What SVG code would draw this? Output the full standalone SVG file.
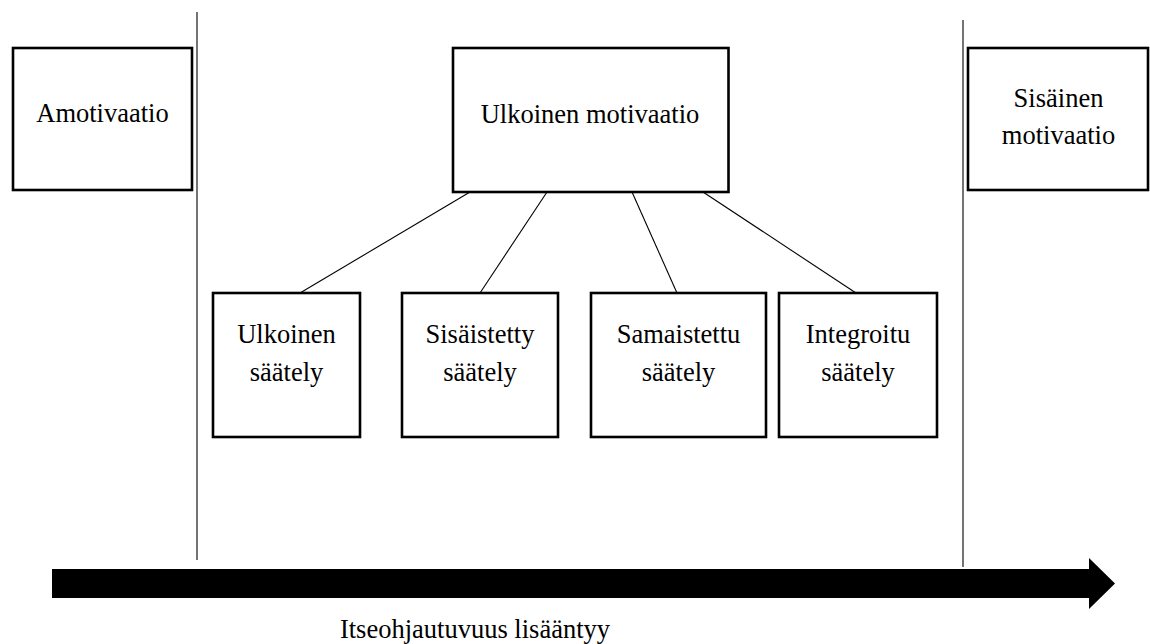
<svg xmlns="http://www.w3.org/2000/svg" width="1150" height="644" viewBox="0 0 1150 644">
<style>
.box{fill:#fff;stroke:#000;stroke-width:2.6}
.t{font-family:"Liberation Serif","Times New Roman",serif;font-size:26.5px;fill:#000;text-anchor:middle}
.ln{stroke:#000;stroke-width:1.1;fill:none}
</style>
<rect width="1150" height="644" fill="#fff"/>
<g id="dividers">
<line class="ln" x1="197" y1="12" x2="197" y2="560"/>
<line class="ln" x1="963" y1="20" x2="963" y2="567"/>
</g>
<g id="connectors">
<line class="ln" x1="470" y1="192" x2="300" y2="293"/>
<line class="ln" x1="547" y1="192" x2="480" y2="293"/>
<line class="ln" x1="632" y1="192" x2="677" y2="293"/>
<line class="ln" x1="703" y1="192" x2="856" y2="293"/>
</g>
<g id="amotivaatio">
<rect class="box" x="13" y="48" width="179" height="142"/>
<text class="t" x="102.5" y="122">Amotivaatio</text>
</g>
<g id="ulkoinen-motivaatio">
<rect class="box" x="453" y="48" width="275.5" height="144"/>
<text class="t" x="590" y="123">Ulkoinen motivaatio</text>
</g>
<g id="sisainen-motivaatio">
<rect class="box" x="968" y="48" width="180" height="142"/>
<text class="t" x="1058.5" y="107">Sisäinen</text>
<text class="t" x="1058.5" y="143.5">motivaatio</text>
</g>
<g id="ulkoinen-saately">
<rect class="box" x="213" y="293" width="147" height="144"/>
<text class="t" x="286.5" y="343">Ulkoinen</text>
<text class="t" x="286.5" y="381">säätely</text>
</g>
<g id="sisaistetty-saately">
<rect class="box" x="402" y="293" width="156" height="144"/>
<text class="t" x="480" y="343">Sisäistetty</text>
<text class="t" x="480" y="381">säätely</text>
</g>
<g id="samaistettu-saately">
<rect class="box" x="591" y="293" width="175" height="144"/>
<text class="t" x="678.5" y="343">Samaistettu</text>
<text class="t" x="678.5" y="381">säätely</text>
</g>
<g id="integroitu-saately">
<rect class="box" x="779" y="293" width="158" height="144"/>
<text class="t" x="858" y="343">Integroitu</text>
<text class="t" x="858" y="381">säätely</text>
</g>
<g id="arrow">
<polygon points="52,569 1089,569 1089,558 1115,583.5 1089,609 1089,598 52,598" fill="#000"/>
<text class="t" x="475" y="638">Itseohjautuvuus lisääntyy</text>
</g>
</svg>
